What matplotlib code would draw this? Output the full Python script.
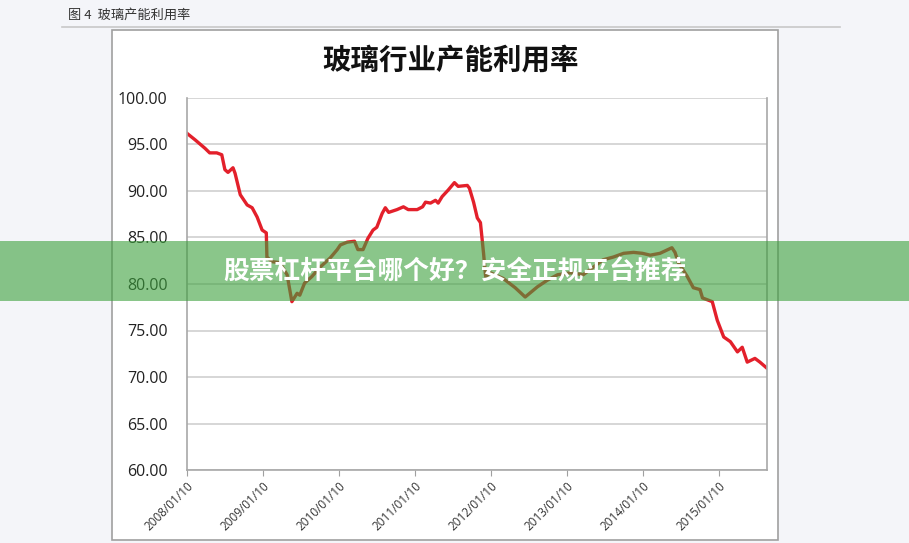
import numpy as np
import pandas as pd
import matplotlib
matplotlib.use("Agg")
import matplotlib.pyplot as plt
import matplotlib.dates as mdates
from matplotlib.patches import Rectangle
from matplotlib.lines import Line2D

plt.rcParams['font.family'] = ['Noto Sans CJK SC', 'DejaVu Sans']

# 玻璃行业产能利用率 (%), values
dates = ['2008-01-10', '2008-02-18', '2008-04-05', '2008-04-28', '2008-06-01', '2008-06-25',
         '2008-07-10', '2008-07-25', '2008-08-18', '2008-08-28', '2008-09-22', '2008-10-25',
         '2008-11-18', '2008-12-12', '2009-01-05', '2009-01-25', '2009-01-28', '2009-02-22',
         '2009-03-30', '2009-05-05', '2009-05-28', '2009-06-22', '2009-07-05', '2009-07-28',
         '2009-09-01', '2009-10-10', '2009-11-28', '2010-01-01', '2010-01-16', '2010-02-18',
         '2010-03-25', '2010-04-10', '2010-05-05', '2010-05-28', '2010-06-22', '2010-07-10',
         '2010-08-05', '2010-08-20', '2010-09-05', '2010-10-15', '2010-11-15', '2010-12-08',
         '2011-01-20', '2011-02-15', '2011-03-01', '2011-03-25', '2011-04-18', '2011-05-01',
         '2011-05-20', '2011-06-18', '2011-07-18', '2011-08-05', '2011-09-18', '2011-09-28',
         '2011-10-18', '2011-11-05', '2011-11-20', '2011-12-05', '2011-12-15', '2012-01-08',
         '2012-03-08', '2012-05-05', '2012-06-22', '2012-08-20', '2012-10-06', '2012-11-25',
         '2013-01-25', '2013-03-28', '2013-05-15', '2013-07-01', '2013-08-20', '2013-10-08',
         '2013-11-25', '2014-01-06', '2014-02-13', '2014-04-01', '2014-05-28', '2014-06-12',
         '2014-06-28', '2014-08-10', '2014-09-08', '2014-10-10', '2014-10-22', '2014-12-08',
         '2015-01-01', '2015-02-01', '2015-03-05', '2015-04-08', '2015-05-01', '2015-05-25',
         '2015-07-01', '2015-07-25', '2015-08-25']
rate = [96.2, 95.5, 94.6, 94.1, 94.1, 93.9,
        92.3, 92.0, 92.5, 91.9, 89.6, 88.5,
        88.2, 87.2, 85.8, 85.5, 82.9, 82.4,
        82.3, 81.0, 78.1, 79.0, 78.8, 80.1,
        80.8, 81.8, 82.8, 83.7, 84.2, 84.5,
        84.6, 83.7, 83.7, 84.9, 85.8, 86.1,
        87.6, 88.2, 87.7, 88.0, 88.3, 88.0,
        88.0, 88.3, 88.8, 88.7, 89.0, 88.7,
        89.4, 90.1, 90.9, 90.5, 90.6, 90.3,
        88.8, 87.1, 86.6, 83.3, 80.8, 81.2,
        80.6, 79.6, 78.6, 79.7, 80.4, 81.0,
        81.2, 81.0, 81.8, 82.6, 82.9, 83.3,
        83.4, 83.3, 83.1, 83.3, 83.9, 83.4,
        82.3, 80.8, 79.6, 79.4, 78.5, 78.1,
        76.1, 74.3, 73.8, 72.7, 73.2, 71.6,
        72.0, 71.6, 71.0]
tick_dates = ['2008-01-10', '2009-01-10', '2010-01-10', '2011-01-10',
              '2012-01-10', '2013-01-10', '2014-01-10', '2015-01-10']
y_ticks = [60, 65, 70, 75, 80, 85, 90, 95, 100]

x = pd.to_datetime(dates)

fig = plt.figure(figsize=(9.09, 5.43), dpi=100, facecolor='#f4f5f9')

# caption and rule
fig.text(68/909, 1-15/543, '图 4  玻璃产能利用率', fontsize=9.5, color='#333333', va='center')
fig.add_artist(Line2D([62/909, 840/909], [1-27/543, 1-27/543], color='#c8c8c8', lw=1.2))

# white chart box
fig.add_artist(Rectangle((112/909, 1-540/543), 666/909, 510/543, facecolor='white',
                         edgecolor='#a0a0a0', lw=1.2, zorder=-1))

ax = fig.add_axes([187/909, 1-470/543, 580/909, 372/543])
ax.plot(x, rate, color='#e3202b', lw=2.4)

ax.set_ylim(60, 100)
ax.set_xlim(pd.Timestamp('2008-01-10'), pd.Timestamp('2015-08-28'))
ax.set_yticks(y_ticks)
ax.set_yticklabels(['%.2f' % v for v in y_ticks], fontsize=11.5, color='#222222', family='Open Sans')
ax.set_xticks(pd.to_datetime(tick_dates))
ax.xaxis.set_major_formatter(mdates.DateFormatter('%Y/%m/%d'))
plt.setp(ax.get_xticklabels(), rotation=45, ha='right', rotation_mode='anchor',
         fontsize=8.5, color='#333333', family='Open Sans')
ax.grid(axis='y', color='#d0d0d0', lw=1.2)
ax.set_axisbelow(True)
ax.tick_params(axis='y', length=0, pad=14)
ax.tick_params(axis='x', length=4, color='#a0a0a0', pad=3)
for s in ['left', 'bottom', 'right']:
    ax.spines[s].set_color('#a8a8a8')
    ax.spines[s].set_linewidth(1.2)
ax.spines['top'].set_visible(False)

fig.text(451/909, 1-60/543, '玻璃行业产能利用率', fontsize=20.5, fontweight='bold',
         color='#111111', ha='center', va='center')

# green banner on top
fig.add_artist(Rectangle((0, 1-301/543), 1, 60/543, facecolor='#3ca03c', alpha=0.6,
                         edgecolor='none', zorder=10))
fig.text(455/909, 1-272/543, '股票杠杆平台哪个好？安全正规平台推荐', fontsize=18.5,
         fontweight='bold', color='white', ha='center', va='center', zorder=11)

fig.savefig('out.png', dpi=100, facecolor=fig.get_facecolor())
